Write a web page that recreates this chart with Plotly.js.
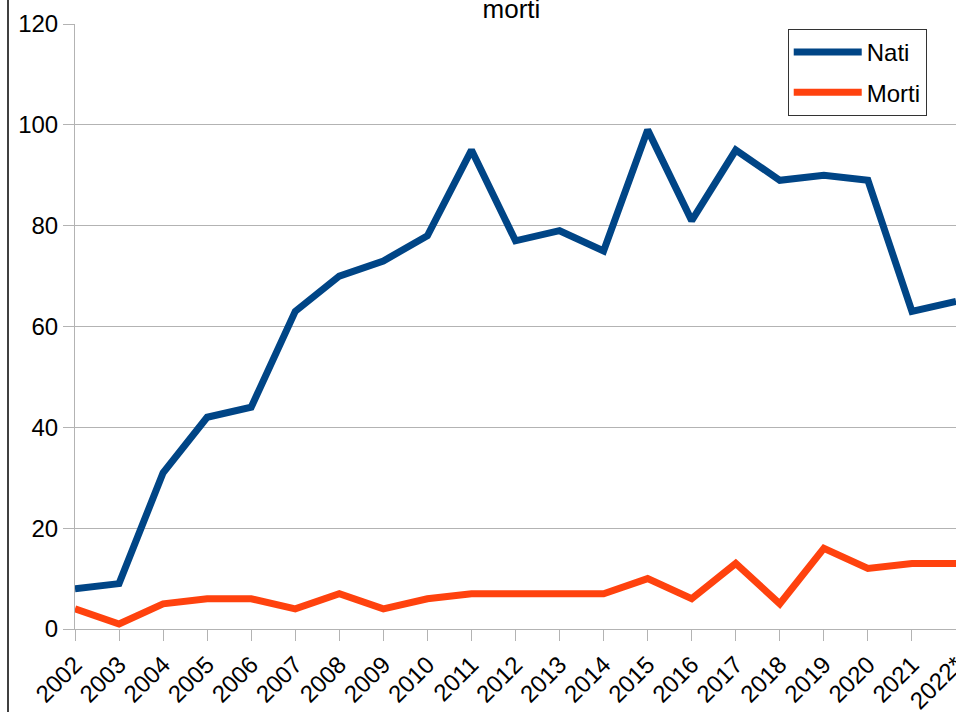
<!DOCTYPE html>
<html>
<head>
<meta charset="utf-8">
<script src="https://cdn.plot.ly/plotly-3.0.1.min.js"></script>
<style>html,body{margin:0;padding:0;background:#fff;}#chart{width:956px;height:712px;}</style>
</head>
<body>
<div id="chart"></div>
<script>
const years = ["2002","2003","2004","2005","2006","2007","2008","2009","2010","2011","2012","2013","2014","2015","2016","2017","2018","2019","2020","2021","2022*"];
const nati = [8,9,31,42,44,63,70,73,78,95,77,79,75,99,81,95,89,90,89,63,65];
const morti = [4,1,5,6,6,4,7,4,6,7,7,7,7,10,6,13,5,16,12,13,13];
const yTicks = [0,20,40,60,80,100,120];

const traces = [
  {x: years, y: nati, name: "Nati", type: "scatter", mode: "lines", legendgroup: "a",
   line: {color: "#004586", width: 7}},
  {x: years, y: morti, name: "Morti", type: "scatter", mode: "lines", legendgroup: "b",
   line: {color: "#ff420e", width: 7}}
];

const font = {family: "Liberation Sans, Arial, sans-serif", color: "#000"};
const layout = {
  width: 956, height: 712,
  margin: {l: 75, r: 0, t: 24, b: 83},
  paper_bgcolor: "#fff", plot_bgcolor: "#fff",
  font: font,
  title: {text: "morti", font: {family: font.family, size: 26, color: "#000"},
          x: 0.535, xanchor: "center", y: 0.988, yanchor: "middle"},
  showlegend: true,
  legend: {x: 0.809, y: 0.992, xanchor: "left", yanchor: "top",
           bordercolor: "#333", borderwidth: 1, bgcolor: "#fff",
           font: {family: font.family, size: 24, color: "#000"},
           traceorder: "grouped", tracegroupgap: 6, itemwidth: 68, entrywidth: 142},
  xaxis: {type: "category", range: [0, 20], tickangle: -45,
          showgrid: false, showline: true, linecolor: "#b3b3b3", linewidth: 1,
          ticks: "outside", ticklen: 11, tickcolor: "#b3b3b3", tickwidth: 1,
          tickfont: {family: font.family, size: 24, color: "#000"}, zeroline: false},
  yaxis: {range: [0, 120], tickvals: yTicks, showgrid: true, gridcolor: "#b3b3b3", gridwidth: 1,
          showline: true, linecolor: "#b3b3b3", linewidth: 1,
          ticks: "outside", ticklen: 11, tickcolor: "#b3b3b3", tickwidth: 1,
          tickfont: {family: font.family, size: 24, color: "#000"}, zeroline: false},
  shapes: [{type: "line", xref: "paper", yref: "paper", x0: -67/881, x1: -67/881, y0: -83/605, y1: 1 + 24/605,
            line: {color: "#000", width: 1.5}}]
};

Plotly.newPlot("chart", traces, layout, {displayModeBar: false, staticPlot: true});
</script>
</body>
</html>
